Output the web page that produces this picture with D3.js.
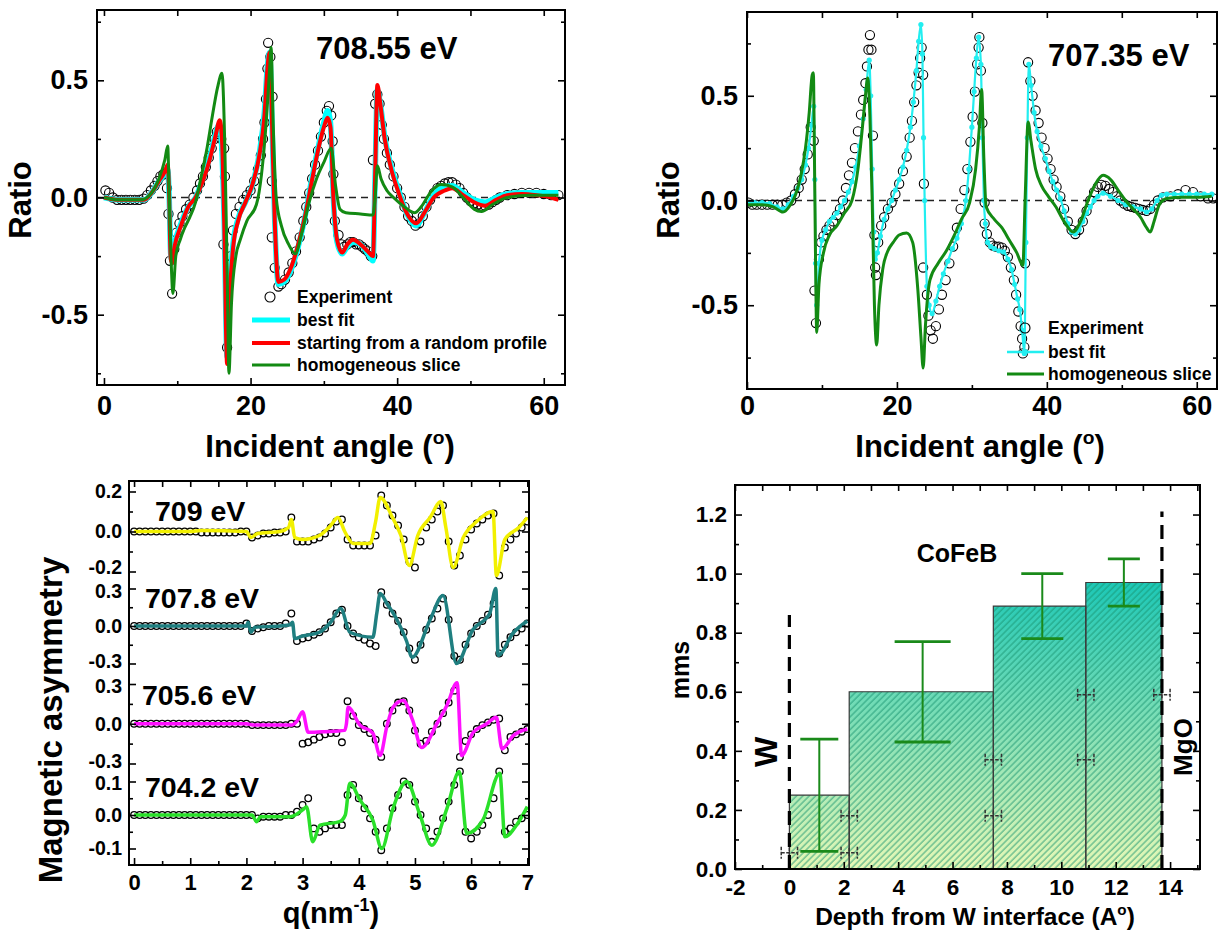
<!DOCTYPE html>
<html><head><meta charset="utf-8">
<script src="https://cdn.jsdelivr.net/npm/d3@7"></script>
<style>body{margin:0;background:#fff}</style>
</head><body>
<svg id="c" width="1225" height="930"></svg>
<script>
// ================= DATA =================
// Top-left panel (708.55 eV): [incident angle, ratio]
const tlExperiment = [[0.2,0.03],[0.7,0.02],[1.2,0.0],[1.8,-0.01],[2.4,-0.01],[3.0,-0.01],[3.6,-0.01],[4.2,-0.01],[4.8,-0.01],[5.4,-0.005],[5.9,0.01],[6.4,0.03],[6.9,0.05],[7.3,0.07],[7.7,0.09],[8.1,0.1],[8.4,0.1],[8.6,0.04],[8.8,-0.07],[9.0,-0.27],[9.3,-0.41],[9.6,-0.22],[9.9,-0.15],[10.3,-0.11],[10.7,-0.08],[11.2,-0.05],[11.7,-0.03],[12.2,0.0],[12.7,0.03],[13.1,0.06],[13.5,0.09],[13.9,0.13],[14.3,0.17],[14.7,0.21],[15.1,0.25],[15.4,0.28],[15.7,0.27],[16.0,0.25],[16.4,0.21],[16.5,0.09],[16.3,-0.2],[16.8,-0.64],[17.3,-0.25],[17.6,-0.14],[18.0,-0.07],[18.5,-0.04],[19.0,-0.01],[19.5,0.01],[20.0,0.03],[20.5,0.07],[21.0,0.12],[21.4,0.18],[21.7,0.25],[21.9,0.32],[22.1,0.42],[22.3,0.55],[22.4,0.66],[22.7,0.6],[23.0,0.43],[22.9,0.07],[22.9,-0.17],[23.3,-0.3],[23.8,-0.38],[24.2,-0.37],[24.7,-0.35],[25.2,-0.32],[25.7,-0.28],[26.2,-0.23],[26.7,-0.17],[27.2,-0.1],[27.6,-0.04],[28.0,0.02],[28.4,0.08],[28.8,0.14],[29.2,0.2],[29.6,0.26],[30.0,0.32],[30.4,0.37],[30.7,0.39],[31.0,0.35],[31.2,0.24],[31.3,0.1],[31.5,-0.1],[32.0,-0.16],[32.4,-0.2],[32.8,-0.21],[33.2,-0.2],[33.6,-0.19],[34.0,-0.19],[34.4,-0.2],[34.8,-0.2],[35.2,-0.21],[35.6,-0.22],[36.0,-0.23],[36.4,-0.25],[36.6,-0.25],[36.7,0.16],[37.0,0.4],[37.3,0.44],[37.6,0.4],[37.9,0.31],[38.2,0.25],[38.6,0.19],[39.0,0.14],[39.5,0.09],[40.0,0.04],[40.5,0.0],[41.0,-0.04],[41.5,-0.08],[42.0,-0.1],[42.5,-0.12],[43.0,-0.11],[43.5,-0.08],[44.0,-0.04],[44.5,-0.01],[45.0,0.02],[45.5,0.04],[46.0,0.05],[46.5,0.06],[47.0,0.065],[47.5,0.065],[48.0,0.055],[48.5,0.04],[49.0,0.02],[49.5,0.0],[50.0,-0.015],[50.5,-0.025],[51.0,-0.03],[51.5,-0.035],[52.0,-0.035],[52.5,-0.03],[53.0,-0.02],[53.5,-0.01],[54.0,0.0],[55,0.01],[56,0.015],[57,0.02],[58,0.02],[59,0.02],[60,0.015],[61,0.01],[62,0.01]];
const tlBestFit = [[0,0.0],[2,-0.01],[4,-0.01],[5.5,-0.01],[6.5,0.02],[7.5,0.07],[8.3,0.1],[8.7,0.12],[8.9,0.0],[9.1,-0.24],[9.3,-0.27],[9.7,-0.19],[10.4,-0.12],[11.5,-0.04],[12.5,0.0],[13.5,0.08],[14.5,0.18],[15.2,0.27],[15.7,0.31],[16.0,0.25],[16.4,-0.1],[16.8,-0.68],[17.1,-0.43],[17.6,-0.2],[18.3,-0.09],[19.3,-0.02],[20.3,0.06],[21.2,0.19],[21.9,0.37],[22.3,0.56],[22.6,0.62],[22.9,0.35],[23.3,-0.1],[23.8,-0.37],[24.6,-0.36],[25.5,-0.31],[26.5,-0.21],[27.5,-0.07],[28.3,0.07],[29.2,0.21],[30.0,0.32],[30.5,0.37],[30.9,0.32],[31.3,0.0],[31.8,-0.19],[32.5,-0.24],[33.2,-0.21],[34.0,-0.19],[35.0,-0.2],[36.0,-0.24],[36.7,-0.27],[37.0,0.1],[37.3,0.46],[37.7,0.4],[38.3,0.26],[39.2,0.13],[40.2,0.03],[41.2,-0.06],[42.6,-0.12],[43.8,-0.06],[45.0,0.01],[46.5,0.045],[47.5,0.05],[49,0.02],[50.5,-0.01],[52,-0.02],[53.5,0.0],[55,0.015],[57,0.02],[59,0.02],[61,0.02],[62,0.02]];
const tlRandomStart = [[0,0.0],[2,-0.01],[4,-0.01],[5.5,-0.01],[6.5,0.02],[7.5,0.07],[8.3,0.11],[8.7,0.14],[8.9,0.0],[9.1,-0.26],[9.3,-0.28],[9.7,-0.2],[10.4,-0.13],[11.5,-0.04],[12.5,0.0],[13.5,0.07],[14.5,0.17],[15.2,0.26],[15.8,0.33],[16.1,0.25],[16.4,-0.1],[16.8,-0.71],[17.1,-0.45],[17.6,-0.22],[18.3,-0.1],[19.3,-0.02],[20.3,0.06],[21.2,0.18],[21.9,0.35],[22.3,0.55],[22.6,0.62],[22.9,0.35],[23.3,-0.1],[23.8,-0.36],[24.6,-0.35],[25.5,-0.3],[26.5,-0.2],[27.5,-0.07],[28.3,0.06],[29.2,0.2],[30.0,0.3],[30.5,0.34],[30.9,0.3],[31.3,0.0],[31.8,-0.18],[32.5,-0.235],[33.2,-0.2],[34.0,-0.18],[35.0,-0.2],[36.0,-0.23],[36.7,-0.25],[37.0,0.1],[37.3,0.48],[37.7,0.4],[38.3,0.25],[39.2,0.12],[40.2,0.02],[41.2,-0.06],[42.6,-0.11],[43.8,-0.06],[45.0,0.0],[46.5,0.03],[47.5,0.04],[49,0.01],[50.5,-0.02],[52,-0.035],[53.5,-0.01],[55,0.01],[57,0.015],[59,0.01],[61,0.0],[62,-0.01]];
const tlHomogeneous = [[0,0.0],[2,-0.01],[5,-0.01],[6.5,0.02],[7.5,0.08],[8.3,0.16],[8.7,0.22],[8.9,0.0],[9.2,-0.3],[9.4,-0.41],[9.8,-0.25],[10.4,-0.18],[11.0,-0.13],[11.7,-0.085],[12.5,-0.02],[13.2,0.08],[14.0,0.2],[14.8,0.35],[15.5,0.47],[16.1,0.53],[16.5,0.2],[16.8,-0.3],[17.05,-0.75],[17.4,-0.45],[18.0,-0.25],[18.6,-0.18],[19.5,-0.1],[20.8,-0.03],[21.5,0.1],[22.2,0.35],[22.6,0.55],[22.8,0.64],[23.1,0.3],[23.5,0.0],[24.2,-0.12],[25.2,-0.2],[26.1,-0.24],[27.0,-0.15],[28.0,-0.02],[29.0,0.08],[30.0,0.15],[31.0,0.21],[31.6,0.05],[32.2,-0.05],[33.0,-0.065],[35,-0.07],[36.7,-0.075],[37.0,0.0],[37.3,0.135],[37.8,0.08],[38.6,0.03],[39.5,0.0],[41,-0.04],[42.4,-0.065],[43.5,-0.03],[44.5,0.02],[46,0.055],[47.5,0.045],[49,0.0],[50.5,-0.05],[51.5,-0.06],[53,-0.03],[55,0.0],[58,0.01],[62,0.01]];

// Top-right panel (707.35 eV)
const trExperiment = [[0.2,-0.01],[0.7,-0.02],[1.3,-0.02],[2,-0.02],[2.7,-0.02],[3.4,-0.02],[4.1,-0.02],[4.7,-0.02],[5.3,-0.01],[5.9,0.0],[6.4,0.03],[6.9,0.06],[7.3,0.1],[7.7,0.15],[8.1,0.22],[8.5,0.35],[8.9,0.285],[9.0,-0.43],[9.2,-0.585],[9.6,-0.28],[9.9,-0.2],[10.2,-0.17],[10.6,-0.14],[11.0,-0.12],[11.5,-0.1],[12.0,-0.07],[12.4,-0.04],[12.8,0.0],[13.2,0.06],[13.6,0.12],[14.0,0.18],[14.4,0.25],[14.8,0.33],[15.2,0.41],[15.5,0.48],[15.8,0.56],[16.0,0.64],[16.2,0.72],[16.4,0.79],[16.6,0.72],[16.8,0.31],[17.0,-0.165],[17.1,-0.32],[17.2,-0.356],[17.5,-0.2],[17.9,-0.12],[18.3,-0.08],[18.8,-0.04],[19.3,-0.01],[19.8,0.03],[20.3,0.08],[20.8,0.14],[21.3,0.21],[21.7,0.3],[22.0,0.38],[22.3,0.47],[22.6,0.55],[22.9,0.61],[23.1,0.68],[23.3,0.73],[23.5,0.6],[23.6,0.08],[23.5,-0.32],[24.0,-0.45],[24.2,-0.55],[24.5,-0.62],[24.8,-0.66],[25.2,-0.6],[25.6,-0.52],[26.0,-0.45],[26.5,-0.38],[27.0,-0.3],[27.5,-0.22],[28.0,-0.13],[28.5,-0.04],[29.0,0.05],[29.4,0.15],[29.8,0.28],[30.1,0.4],[30.4,0.52],[30.7,0.65],[30.9,0.73],[31.0,0.78],[31.2,0.62],[31.4,0.37],[31.7,-0.01],[31.7,-0.11],[32.0,-0.16],[32.4,-0.2],[32.8,-0.215],[33.2,-0.22],[33.6,-0.22],[34.0,-0.225],[34.4,-0.24],[34.8,-0.27],[35.2,-0.32],[35.6,-0.38],[35.9,-0.45],[36.2,-0.53],[36.5,-0.6],[36.7,-0.66],[36.8,-0.73],[37.0,-0.7],[37.1,-0.3],[37.5,0.66],[37.8,0.57],[38.1,0.5],[38.5,0.43],[38.9,0.37],[39.3,0.3],[39.7,0.25],[40.1,0.2],[40.5,0.15],[40.9,0.1],[41.3,0.065],[41.8,0.02],[42.3,-0.04],[42.8,-0.1],[43.3,-0.14],[43.8,-0.16],[44.3,-0.14],[44.8,-0.1],[45.3,-0.05],[45.8,0.0],[46.3,0.04],[46.8,0.065],[47.3,0.075],[47.8,0.07],[48.3,0.055],[48.8,0.04],[49.3,0.02],[49.8,0.0],[50.3,-0.015],[50.8,-0.025],[51.3,-0.03],[51.8,-0.035],[52.3,-0.04],[52.8,-0.045],[53.3,-0.05],[53.8,-0.04],[54.3,-0.02],[54.8,0.0],[55.5,0.015],[56.5,0.02],[57.5,0.03],[58.5,0.05],[59.5,0.04],[60.5,0.02],[61.5,0.01],[62.2,0.01]];
const trBestFit = [[0,-0.01],[1,-0.01],[2,-0.01],[3,-0.015],[4,-0.03],[4.8,-0.04],[5.5,-0.02],[6.2,0.02],[6.8,0.06],[7.3,0.1],[7.8,0.17],[8.2,0.25],[8.6,0.36],[8.9,0.45],[9.05,0.1],[9.15,-0.3],[9.3,-0.5],[9.6,-0.3],[10.0,-0.19],[10.5,-0.14],[11.0,-0.1],[11.5,-0.08],[12.0,-0.06],[12.5,-0.03],[13.0,0.0],[13.5,0.04],[14.0,0.09],[14.5,0.16],[15.0,0.26],[15.5,0.39],[15.9,0.53],[16.3,0.67],[16.5,0.5],[16.7,0.15],[16.9,-0.15],[17.1,-0.28],[17.4,-0.25],[17.8,-0.17],[18.3,-0.09],[18.8,-0.04],[19.3,0.0],[19.8,0.05],[20.3,0.1],[20.8,0.16],[21.3,0.24],[21.8,0.35],[22.2,0.47],[22.6,0.62],[22.9,0.76],[23.2,0.84],[23.4,0.7],[23.55,0.3],[23.7,0.0],[24.0,-0.41],[24.3,-0.5],[24.7,-0.54],[25.2,-0.48],[25.7,-0.41],[26.2,-0.35],[26.8,-0.29],[27.4,-0.23],[28.0,-0.18],[28.6,-0.11],[29.2,0.0],[29.6,0.15],[30.0,0.35],[30.3,0.52],[30.6,0.68],[30.9,0.78],[31.2,0.65],[31.4,0.3],[31.6,0.0],[31.8,-0.11],[32.1,-0.2],[32.5,-0.22],[33.0,-0.23],[33.6,-0.24],[34.2,-0.245],[34.8,-0.28],[35.3,-0.33],[35.7,-0.4],[36.1,-0.47],[36.4,-0.52],[36.7,-0.62],[37.0,-0.73],[37.2,-0.2],[37.4,0.3],[37.6,0.65],[37.9,0.55],[38.3,0.42],[38.7,0.33],[39.2,0.26],[39.8,0.2],[40.3,0.14],[40.8,0.09],[41.3,0.05],[41.8,0.01],[42.3,-0.05],[42.8,-0.11],[43.3,-0.15],[43.8,-0.16],[44.3,-0.14],[44.8,-0.1],[45.3,-0.06],[45.8,-0.03],[46.3,0.0],[46.8,0.02],[47.5,0.035],[48.5,0.02],[49.5,0.0],[50.5,-0.02],[51.5,-0.03],[52.5,-0.04],[53.3,-0.055],[54.0,-0.04],[54.7,0.0],[55.3,0.025],[56.0,0.03],[57,0.03],[58,0.03],[59,0.03],[60,0.03],[61,0.03],[62,0.03]];
const trHomogeneous = [[0,-0.02],[2,-0.02],[3.5,-0.03],[4.8,-0.055],[5.8,-0.02],[6.5,0.03],[7.2,0.12],[7.8,0.25],[8.3,0.42],[8.7,0.6],[8.85,0.61],[9.0,0.2],[9.15,-0.3],[9.3,-0.63],[9.6,-0.4],[10.2,-0.25],[11.0,-0.165],[12.0,-0.12],[13.0,-0.06],[14.0,0.0],[14.8,0.15],[15.4,0.35],[15.8,0.5],[16.1,0.585],[16.4,0.4],[16.7,0.0],[17.0,-0.5],[17.3,-0.69],[17.6,-0.5],[18.1,-0.33],[18.8,-0.24],[19.5,-0.2],[20.3,-0.165],[21.3,-0.155],[22.1,-0.2],[22.8,-0.43],[23.2,-0.65],[23.5,-0.8],[23.8,-0.6],[24.4,-0.38],[25.5,-0.3],[26.6,-0.24],[27.6,-0.17],[28.6,-0.09],[29.7,-0.01],[30.5,0.15],[31.0,0.35],[31.3,0.53],[31.6,0.2],[31.9,-0.03],[33.0,-0.09],[34.0,-0.13],[35.0,-0.19],[36.0,-0.25],[36.8,-0.31],[37.1,0.0],[37.5,0.375],[37.9,0.28],[38.5,0.15],[39.3,0.07],[40.2,0.02],[41.2,-0.03],[42.3,-0.1],[43.5,-0.15],[44.5,-0.1],[45.5,0.0],[46.5,0.08],[47.5,0.12],[48.5,0.1],[49.5,0.05],[50.5,0.0],[51.5,-0.04],[52.5,-0.08],[53.3,-0.13],[53.8,-0.15],[54.3,-0.1],[55,-0.02],[56,0.01],[58,0.015],[60,0.015],[62,0.02]];

// Bottom-left panel: magnetic asymmetry vs q (nm^-1)
const qGrid = [0.0,0.1,0.2,0.3,0.4,0.5,0.6,0.7,0.8,0.9,1.0,1.1,1.2,1.3,1.4,1.5,1.6,1.7,1.8,1.9,2.0,2.1,2.2,2.3,2.4,2.5,2.6,2.7,2.8,2.9,3.0,3.1,3.2,3.3,3.4,3.5,3.6,3.7,3.8,3.9,4.0,4.1,4.2,4.3,4.4,4.5,4.6,4.7,4.8,4.9,5.0,5.1,5.2,5.3,5.4,5.5,5.6,5.7,5.8,5.9,6.0,6.1,6.2,6.3,6.4,6.5,6.6,6.7,6.8,6.9,7.0];
const exp709 = [0,0,0,0,0,0,0,0,0,0, 0,0,-0.005,-0.005,-0.005,-0.005,-0.005,-0.005,-0.005,0, 0,-0.03,-0.02,-0.01,-0.01,-0.005,-0.005,0,0.07,-0.05, -0.05,-0.05,-0.04,-0.03,-0.01,0.02,0.05,0.06,-0.04,-0.07, -0.07,-0.07,-0.07,-0.02,0.18,0.13,0.08,0.03,-0.04,-0.15, -0.18,-0.05,0.02,0.06,0.1,0.13,-0.05,-0.17,-0.12,-0.04, 0.01,0.04,0.06,0.08,0.09,-0.22,-0.08,-0.04,-0.01,0.02, 0.05];
const exp7078 = [0,0,0,0,0,0,0,0,0,0, 0,0,0,0,0,0,0,0,0,0, 0.02,-0.04,-0.02,-0.01,0,0,0,0.02,0.1,-0.12, -0.1,-0.09,-0.07,-0.05,-0.02,0.03,0.1,0.13,0.0,-0.06, -0.09,-0.11,-0.14,-0.16,0.27,0.17,0.1,0.04,-0.05,-0.18, -0.27,-0.15,-0.03,0.06,0.14,0.22,0.05,-0.24,-0.27,-0.15, -0.06,0.0,0.04,0.09,0.18,-0.22,-0.15,-0.09,-0.05,-0.02, 0.02];
const exp7056 = [0,0,0,0,0,0,0,0,0,0, 0,0,0,0,0,0,0,0,0,0, 0,-0.01,-0.01,-0.01,-0.01,-0.01,-0.01,-0.01,0.0,0.0, -0.15,-0.14,-0.12,-0.1,-0.08,-0.07,-0.07,-0.14,0.17,0.06, -0.01,-0.04,-0.07,-0.12,-0.25,0.0,0.1,0.16,0.17,0.1, -0.05,-0.15,-0.13,-0.06,0.0,0.08,0.16,0.25,-0.25,-0.13, -0.08,-0.04,-0.01,0.01,0.03,0.04,-0.2,-0.1,-0.08,-0.06, -0.04];
const exp7042 = [0,0,0,0,0,0,0,0,0,0, 0,0,0,0,0,0,0,0,0,0, 0,0,-0.01,-0.005,-0.005,-0.005,-0.005,0,0,0.01, 0.03,0.05,-0.04,-0.05,-0.04,-0.03,-0.03,-0.03,0.06,0.09, 0.05,0.02,-0.01,-0.05,-0.105,-0.04,0.02,0.06,0.1,0.09, 0.04,0.0,-0.04,-0.08,-0.05,-0.01,0.04,0.09,0.13,-0.05, -0.07,-0.05,-0.03,0.0,0.05,0.13,-0.05,-0.04,-0.02,-0.01, 0.0];
const fit709 = [[0,0],[1.0,0.0],[1.2,0.005],[2.0,0.0],[2.08,-0.03],[2.2,-0.01],[2.6,0.0],[2.75,0.02],[2.8,0.06],[2.86,-0.03],[3.0,-0.04],[3.3,-0.02],[3.5,0.03],[3.63,0.07],[3.75,0.0],[3.9,-0.06],[4.2,-0.06],[4.3,0.05],[4.38,0.17],[4.6,0.07],[4.75,-0.02],[4.9,-0.17],[5.05,-0.02],[5.27,0.07],[5.46,0.15],[5.55,0.02],[5.68,-0.18],[5.86,-0.03],[6.1,0.05],[6.39,0.1],[6.45,-0.22],[6.6,-0.04],[6.85,0.02],[7.0,0.07]];
const fit7078 = [[0,0],[1.0,0.0],[2.0,0.0],[2.03,0.03],[2.08,-0.05],[2.15,-0.01],[2.6,0.0],[2.78,0.01],[2.82,0.03],[2.86,-0.1],[3.0,-0.08],[3.3,-0.05],[3.5,0.03],[3.68,0.14],[3.84,-0.05],[4.25,-0.09],[4.32,0.1],[4.38,0.26],[4.5,0.18],[4.68,0.05],[4.85,-0.12],[4.95,-0.25],[5.27,0.05],[5.5,0.245],[5.74,-0.3],[6.03,-0.03],[6.33,0.1],[6.44,0.3],[6.48,-0.235],[6.74,-0.06],[7.0,0.04]];
const fit7056 = [[0,0],[2.0,0.0],[2.12,-0.01],[2.8,-0.01],[2.9,0.02],[3.0,0.09],[3.1,-0.065],[3.4,-0.06],[3.75,-0.05],[3.78,0.0],[3.81,0.125],[4.02,-0.01],[4.25,-0.07],[4.38,-0.24],[4.5,-0.02],[4.61,0.125],[4.79,0.175],[4.96,0.025],[5.12,-0.18],[5.39,0.0],[5.57,0.14],[5.75,0.31],[5.83,-0.24],[6.03,-0.07],[6.28,0.0],[6.45,0.05],[6.55,-0.19],[6.75,-0.09],[7.0,-0.04]];
const fit7042 = [[0,0],[2.1,0.0],[2.18,-0.02],[2.25,-0.005],[2.78,-0.005],[3.0,0.015],[3.07,0.025],[3.18,-0.08],[3.31,-0.03],[3.66,-0.02],[3.76,0.0],[3.84,0.095],[4.02,0.045],[4.25,-0.015],[4.41,-0.1],[4.61,0.02],[4.85,0.1],[5.09,0.0],[5.3,-0.09],[5.57,0.02],[5.79,0.13],[5.92,-0.055],[6.21,-0.015],[6.51,0.125],[6.6,-0.065],[6.81,-0.03],[7.0,0.025]];
const energyLabels = ["709 eV","707.8 eV","705.6 eV","704.2 eV"];

// Bottom-right panel: magnetic moment depth profile
const sliceStart = [0, 2.2, 7.5, 10.9];
const sliceEnd   = [2.2, 7.5, 10.9, 13.7];
const sliceMms   = [0.25, 0.6, 0.89, 0.97];
const errCenter  = [1.1, 4.9, 9.3, 12.3];
const errLow     = [0.06, 0.43, 0.78, 0.89];
const errHigh    = [0.44, 0.77, 1.0, 1.05];
const ifaceX     = [0, 2.2, 2.2, 7.5, 7.5, 10.9, 10.9, 13.7];
const ifaceY     = [0.055, 0.055, 0.18, 0.18, 0.37, 0.37, 0.59, 0.59];
const ifaceErr   = 0.3;
const wallX      = [0, 13.7];
const wallTop    = [0.86, 1.21];

// Tick values
const angleTicks = [0,20,40,60], angleMinor = [10,30,50];
const ratioTicks = [-0.5,0,0.5], ratioMinor = [-0.75,-0.25,0.25,0.75];
const qTicks = [0,1,2,3,4,5,6,7], qMinor = [0.5,1.5,2.5,3.5,4.5,5.5,6.5];
const depthTicks = [-2,0,2,4,6,8,10,12,14], depthMinor = [-1,1,3,5,7,9,11,13,15];
const mmsTicks = [0,0.2,0.4,0.6,0.8,1.0,1.2], mmsMinor = [0.1,0.3,0.5,0.7,0.9,1.1];

// ================= DRAWING =================
const FONT = '"Liberation Sans", Arial, Helvetica, sans-serif';
const svg = d3.select("#c");
const defs = svg.append("defs");
const f1 = d => d.toFixed(1);

function styleAxis(sel, fs) {
  sel.select(".domain").remove();
  sel.selectAll("line").attr("stroke", "#000").attr("stroke-width", 1.6);
  sel.selectAll("text").attr("font-family", FONT).attr("font-weight", "bold")
     .attr("font-size", fs).attr("fill", "#000");
}
function xAxes(g, x, yb, yt, major, minor, fmt, pad, fs) {
  g.append("g").attr("transform", `translate(0,${yb})`)
    .call(d3.axisBottom(x).tickValues(major).tickSize(-7).tickPadding(pad).tickFormat(fmt)).call(s => styleAxis(s, fs));
  g.append("g").attr("transform", `translate(0,${yb})`)
    .call(d3.axisBottom(x).tickValues(minor).tickSize(-4).tickFormat("")).call(s => styleAxis(s, fs));
  g.append("g").attr("transform", `translate(0,${yt})`)
    .call(d3.axisTop(x).tickValues(major.concat(minor)).tickSize(-6).tickFormat("")).call(s => styleAxis(s, fs));
}
function yAxes(g, y, xl, xr, major, minor, fmt, pad, fs, shift) {
  const ax = g.append("g").attr("transform", `translate(${xl},0)`)
    .call(d3.axisLeft(y).tickValues(major).tickSize(-7).tickPadding(pad).tickFormat(fmt)).call(s => styleAxis(s, fs));
  if (shift) ax.selectAll("text").attr("y", d => shift(d));
  g.append("g").attr("transform", `translate(${xl},0)`)
    .call(d3.axisLeft(y).tickValues(minor).tickSize(-4).tickFormat("")).call(s => styleAxis(s, fs));
  g.append("g").attr("transform", `translate(${xr},0)`)
    .call(d3.axisRight(y).tickValues(major).tickSize(-7).tickFormat("")).call(s => styleAxis(s, fs));
  g.append("g").attr("transform", `translate(${xr},0)`)
    .call(d3.axisRight(y).tickValues(minor).tickSize(-4).tickFormat("")).call(s => styleAxis(s, fs));
}
function frame(g, x0, y0, x1, y1) {
  g.append("rect").attr("x", x0).attr("y", y0).attr("width", x1 - x0).attr("height", y1 - y0)
    .attr("fill", "none").attr("stroke", "#000").attr("stroke-width", 2);
}
function addClip(id, x0, y0, x1, y1) {
  defs.append("clipPath").attr("id", id).append("rect")
    .attr("x", x0).attr("y", y0).attr("width", x1 - x0).attr("height", y1 - y0);
}
function txt(g, s, x, y, fs, anchor, rot) {
  const t = g.append("text").attr("font-family", FONT).attr("font-weight", "bold")
    .attr("font-size", fs).attr("text-anchor", anchor || "start").attr("fill", "#000");
  if (rot) t.attr("transform", `translate(${x},${y}) rotate(${rot})`); else t.attr("x", x).attr("y", y);
  t.text(s);
  return t;
}
function degLabel(g, x, y, fs, pre, post) {
  const t = g.append("text").attr("x", x).attr("y", y).attr("font-family", FONT).attr("font-weight", "bold")
    .attr("font-size", fs).attr("text-anchor", "middle");
  t.append("tspan").text(pre);
  t.append("tspan").attr("font-size", fs * 0.62).attr("dy", -fs * 0.42).text("o");
  t.append("tspan").attr("dy", fs * 0.42).text(post);
}

// ---------- Top panels ----------
function ratioPanel(opts) {
  const g = svg.append("g");
  const x = d3.scaleLinear().domain(opts.xd).range(opts.xr);
  const y = d3.scaleLinear().domain(opts.yd).range(opts.yr);
  const [xl, xr] = opts.xr, [yb, yt] = opts.yr;
  addClip(opts.id, xl, yt, xr, yb);
  const pg = g.append("g").attr("clip-path", `url(#${opts.id})`);
  pg.append("line").attr("x1", xl).attr("x2", xr).attr("y1", y(0)).attr("y2", y(0))
    .attr("stroke", "#222").attr("stroke-width", 1.3).attr("stroke-dasharray", "7,5");
  pg.selectAll("circle.exp").data(opts.exp).join("circle").attr("class", "exp")
    .attr("cx", d => x(d[0])).attr("cy", d => y(d[1])).attr("r", 4.6)
    .attr("fill", "none").attr("stroke", "#000").attr("stroke-width", 1.1);
  const line = d3.line().x(d => x(d[0])).y(d => y(d[1])).curve(d3.curveMonotoneX);
  opts.lines.forEach(L => {
    pg.append("path").attr("d", line(L.data)).attr("fill", "none").attr("stroke", L.color)
      .attr("stroke-width", L.w).attr("stroke-linejoin", "round");
    if (L.dots) pg.selectAll(null).data(L.data).join("circle").attr("cx", d => x(d[0])).attr("cy", d => y(d[1]))
      .attr("r", 2.6).attr("fill", L.color);
  });
  xAxes(g, x, yb, yt, angleTicks, angleMinor, d => String(d), opts.xpad, 27);
  yAxes(g, y, xl, xr, ratioTicks, ratioMinor, f1, 9, 27);
  frame(g, xl, yt, xr, yb);
  return g;
}

const gTL = ratioPanel({ id: "cTL", xd: [-0.95, 62.9], xr: [97, 565], yd: [-0.8, 0.8], yr: [385, 10], xpad: 11,
  exp: tlExperiment,
  lines: [{ data: tlBestFit, color: "#00ffff", w: 5.5 }, { data: tlRandomStart, color: "#ff0000", w: 4 }, { data: tlHomogeneous, color: "#138a13", w: 3 }] });
txt(gTL, "708.55 eV", 316, 59, 31);
txt(gTL, "Ratio", 31, 200, 31, "middle", -90);
degLabel(gTL, 330, 457, 31, "Incident angle (", ")");
// legend TL
gTL.append("circle").attr("cx", 270).attr("cy", 297).attr("r", 5).attr("fill", "none").attr("stroke", "#000").attr("stroke-width", 1.1);
[["best fit", "#00ffff", 5, 320], ["starting from a random profile", "#ff0000", 4, 343], ["homogeneous slice", "#138a13", 3, 365]].forEach(r => {
  gTL.append("line").attr("x1", 252).attr("x2", 290).attr("y1", r[3]).attr("y2", r[3]).attr("stroke", r[1]).attr("stroke-width", r[2]);
});
[["Experiment", 297], ["best fit", 320], ["starting from a random profile", 343], ["homogeneous slice", 365]].forEach(r => {
  txt(gTL, r[0], 297, r[1] + 6, 17.5);
});

const gTR = ratioPanel({ id: "cTR", xd: [0, 62.7], xr: [747, 1217], yd: [-0.9, 0.9], yr: [389, 12], xpad: 7,
  exp: trExperiment,
  lines: [{ data: trBestFit, color: "#22eef0", w: 2.2, dots: true }, { data: trHomogeneous, color: "#138a13", w: 3 }] });
txt(gTR, "707.35 eV", 1048, 66, 31);
txt(gTR, "Ratio", 679, 200, 31, "middle", -90);
degLabel(gTR, 980, 457, 31, "Incident angle (", ")");
gTR.append("circle").attr("cx", 1025).attr("cy", 328).attr("r", 5).attr("fill", "none").attr("stroke", "#000").attr("stroke-width", 1.1);
gTR.append("line").attr("x1", 1007).attr("x2", 1044).attr("y1", 352).attr("y2", 352).attr("stroke", "#22eef0").attr("stroke-width", 2.5);
gTR.append("circle").attr("cx", 1025).attr("cy", 352).attr("r", 3).attr("fill", "#22eef0");
gTR.append("line").attr("x1", 1007).attr("x2", 1044).attr("y1", 374).attr("y2", 374).attr("stroke", "#138a13").attr("stroke-width", 3);
[["Experiment", 328], ["best fit", 352], ["homogeneous slice", 374]].forEach(r => txt(gTR, r[0], 1048, r[1] + 6, 17.5));

// ---------- Bottom-left panel ----------
(function () {
  const g = svg.append("g");
  const xl = 129, xr = 529, yt = 481, yb = 865;
  const x = d3.scaleLinear().domain([-0.09, 7.03]).range([xl, xr]);
  const subs = [
    { exp: exp709, fit: fit709, color: "#f2f000", y: d3.scaleLinear().domain([-0.2, 0.2]).range([571.5, 491.5]), major: [-0.2, 0, 0.2], minor: [-0.1, 0.1], lab: [155, 521], shift: d => d < 0 ? -4 : 0 },
    { exp: exp7078, fit: fit7078, color: "#1f7f80", y: d3.scaleLinear().domain([-0.3, 0.3]).range([663.5, 588.5]), major: [-0.3, 0, 0.3], minor: [-0.15, 0.15], lab: [145, 608], shift: d => d > 0 ? 3 : (d < 0 ? -2 : 0) },
    { exp: exp7056, fit: fit7056, color: "#ff10ff", y: d3.scaleLinear().domain([-0.3, 0.3]).range([763.5, 684]), major: [-0.3, 0, 0.3], minor: [-0.15, 0.15], lab: [142, 705], shift: d => d > 0 ? 2 : (d < 0 ? -2 : 0) },
    { exp: exp7042, fit: fit7042, color: "#2ae02a", y: d3.scaleLinear().domain([-0.1, 0.1]).range([848.5, 781.5]), major: [-0.1, 0, 0.1], minor: [-0.05, 0.05], lab: [145, 797], shift: d => d > 0 ? 2 : 0 }
  ];
  addClip("cBL", xl, yt, xr, yb);
  const pg = g.append("g").attr("clip-path", "url(#cBL)");
  subs.forEach((s, i) => {
    const y = s.y;
    pg.selectAll(null).data(qGrid.map((q, k) => [q, s.exp[k]])).join("circle")
      .attr("cx", d => x(d[0])).attr("cy", d => y(d[1])).attr("r", 3.3)
      .attr("fill", "none").attr("stroke", "#000").attr("stroke-width", 1.3);
    const line = d3.line().x(d => x(d[0])).y(d => y(d[1])).curve(d3.curveMonotoneX);
    pg.append("path").attr("d", line(s.fit)).attr("fill", "none").attr("stroke", s.color)
      .attr("stroke-width", 3.5).attr("stroke-linejoin", "round");
    txt(g, energyLabels[i], s.lab[0], s.lab[1], 28.5);
  });
  subs.forEach(s => yAxes(g, s.y, xl, xr, s.major, s.minor, f1, 7, 19.5, s.shift));
  xAxes(g, x, yb, yt, qTicks, qMinor, d => String(d), 9, 22);
  frame(g, xl, yt, xr, yb);
  txt(g, "Magnetic asymmetry", 62, 720, 33, "middle", -90);
  const t = g.append("text").attr("x", 331).attr("y", 923).attr("font-family", FONT).attr("font-weight", "bold")
    .attr("font-size", 29).attr("text-anchor", "middle");
  t.append("tspan").text("q(nm");
  t.append("tspan").attr("font-size", 18).attr("dy", -12).text("-1");
  t.append("tspan").attr("dy", 12).text(")");
})();

// ---------- Bottom-right panel ----------
(function () {
  const g = svg.append("g");
  const xl = 735, xr = 1200, yt = 485, yb = 869;
  const x = d3.scaleLinear().domain([-2, 15.1]).range([xl, xr]);
  const y = d3.scaleLinear().domain([0, 1.3]).range([yb, yt]);
  const grad = defs.append("linearGradient").attr("id", "barGrad").attr("gradientUnits", "userSpaceOnUse")
    .attr("x1", 0).attr("x2", 0).attr("y1", y(0)).attr("y2", y(1));
  grad.append("stop").attr("offset", 0).attr("stop-color", "#e6f8b6");
  grad.append("stop").attr("offset", 1).attr("stop-color", "#16c6b6");
  const pat = defs.append("pattern").attr("id", "hatch").attr("patternUnits", "userSpaceOnUse")
    .attr("width", 4.5).attr("height", 10).attr("patternTransform", "rotate(45)");
  pat.append("line").attr("x1", 1).attr("x2", 1).attr("y1", 0).attr("y2", 10)
    .attr("stroke", "#17936f").attr("stroke-width", 1.1).attr("stroke-opacity", 0.75);

  const bars = sliceStart.map((s, i) => ({ s, e: sliceEnd[i], h: sliceMms[i] }));
  ["url(#barGrad)", "url(#hatch)"].forEach(fill => {
    g.selectAll(null).data(bars).join("rect")
      .attr("x", d => x(d.s)).attr("width", d => x(d.e) - x(d.s))
      .attr("y", d => y(d.h)).attr("height", d => y(0) - y(d.h)).attr("fill", fill);
  });
  g.selectAll(null).data(bars).join("path")
    .attr("d", d => `M${x(d.s)},${y(0)}V${y(d.h)}H${x(d.e)}V${y(0)}`)
    .attr("fill", "none").attr("stroke", "#3a3a3a").attr("stroke-width", 1.2);

  // interface position markers
  ifaceX.forEach((xv, i) => {
    const cx = x(xv), cy = y(ifaceY[i]), a = x(xv - ifaceErr), b = x(xv + ifaceErr);
    const m = g.append("g").attr("stroke", "#333").attr("stroke-width", 1.5).attr("stroke-dasharray", "3.5,1.5");
    m.append("line").attr("x1", a).attr("x2", b).attr("y1", cy).attr("y2", cy);
    m.append("line").attr("x1", a).attr("x2", a).attr("y1", cy - 6).attr("y2", cy + 6);
    m.append("line").attr("x1", b).attr("x2", b).attr("y1", cy - 6).attr("y2", cy + 6);
    m.append("line").attr("x1", cx).attr("x2", cx).attr("y1", cy - 5).attr("y2", cy + 5);
  });

  // error bars
  const capHalf = [19, 28, 21, 16];
  errCenter.forEach((c, i) => {
    const cx = x(c);
    g.append("line").attr("x1", cx).attr("x2", cx).attr("y1", y(errLow[i])).attr("y2", y(errHigh[i]))
      .attr("stroke", "#1a8a1a").attr("stroke-width", 2);
    [errLow[i], errHigh[i]].forEach(v => g.append("line").attr("x1", cx - capHalf[i]).attr("x2", cx + capHalf[i])
      .attr("y1", y(v)).attr("y2", y(v)).attr("stroke", "#1a8a1a").attr("stroke-width", 2.8));
  });

  // interface walls
  wallX.forEach((wx, i) => g.append("line").attr("x1", x(wx)).attr("x2", x(wx)).attr("y1", y(0)).attr("y2", y(wallTop[i]))
    .attr("stroke", "#000").attr("stroke-width", 3.2).attr("stroke-dasharray", "14,8"));

  xAxes(g, x, yb, yt, depthTicks, depthMinor, d => String(d), 10, 22.5);
  yAxes(g, y, xl, xr, mmsTicks, mmsMinor, f1, 8, 22.5);
  frame(g, xl, yt, xr, yb);

  txt(g, "CoFeB", 957, 562, 25, "middle");
  txt(g, "W", 777, 752, 32, "middle", -90);
  txt(g, "MgO", 1192, 747, 26, "middle", -90);
  txt(g, "mms", 689, 670, 25, "middle", -90);
  degLabel(g, 975, 925, 24.5, "Depth from W interface (A", ")");
})();
</script>
</body></html>
